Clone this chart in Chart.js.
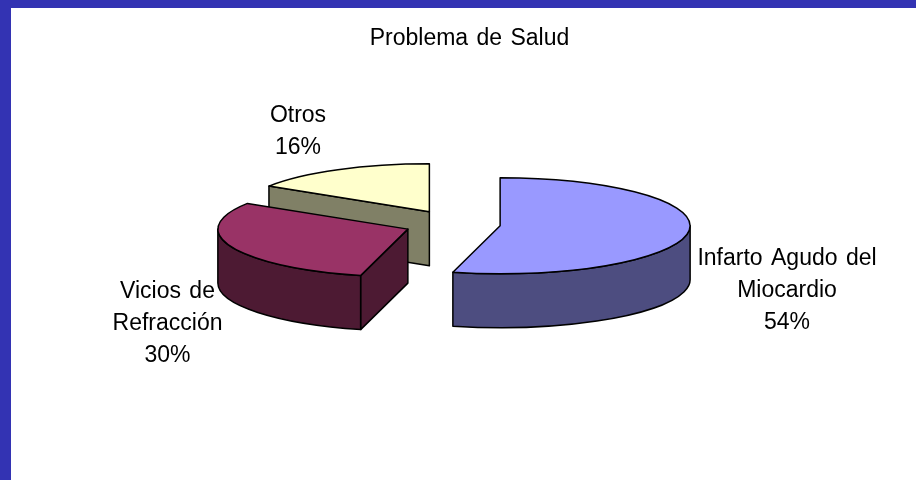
<!DOCTYPE html>
<html>
<head>
<meta charset="utf-8">
<style>
html,body{margin:0;padding:0;width:916px;height:480px;overflow:hidden;background:#3333B3;}
#wrap{position:absolute;left:11px;top:8px;width:905px;height:472px;overflow:hidden;background:#fff;}
canvas{display:block;}
</style>
<script src="https://cdn.jsdelivr.net/npm/chart.js@4/dist/chart.umd.js"></script>
</head>
<body>
<div id="wrap"><canvas id="c" width="917" height="472" style="width:917px;height:472px"></canvas></div>
<script>
const categories = ["Infarto Agudo del\nMiocardio", "Vicios de\nRefracción", "Otros"];
const values = [54, 30, 16];
const topColors = ["#9999FF", "#993366", "#FFFFCC"];
const wallColors = ["#4D4D80", "#4D1A33", "#808066"];
const chartTitle = "Problema de Salud";

const FONT = '"Liberation Sans", Arial, sans-serif';
const pie3d = {
  id: "pie3d",
  beforeDatasetDraw(chart, args, opts) {
    const ctx = chart.ctx;
    const arcs = chart.getDatasetMeta(args.index).data;
    const squash = opts.squash, explodeY = opts.explodeY, depth = opts.depth;
    for (let i = arcs.length - 1; i >= 0; i--) {
      const a = arcs[i];
      const r = a.outerRadius, a0 = a.startAngle, a1 = a.endAngle;
      const mid = (a0 + a1) / 2, off = a.options.offset / 4;
      const cx = a.x + Math.cos(mid) * off;
      const cy = a.y + Math.sin(mid) * off * explodeY;
      const ry = r * squash;
      const px = t => cx + Math.cos(t) * r;
      const py = t => cy + Math.sin(t) * ry;
      ctx.save();
      ctx.lineWidth = opts.lineWidth;
      ctx.lineJoin = "round";
      ctx.strokeStyle = "#000";
      ctx.fillStyle = wallColors[i];
      // radial walls that face the viewer
      const faces = [[a0, Math.sin(a0 - Math.PI / 2)], [a1, Math.sin(a1 + Math.PI / 2)]];
      for (const [t, facing] of faces) {
        if (facing <= 1e-6) continue;
        ctx.beginPath();
        ctx.moveTo(cx, cy);
        ctx.lineTo(px(t), py(t));
        ctx.lineTo(px(t), py(t) + depth);
        ctx.lineTo(cx, cy + depth);
        ctx.closePath();
        ctx.fill();
        ctx.stroke();
      }
      // outer curved wall: only the part facing the viewer
      const from = Math.max(a0, 0), to = Math.min(a1, Math.PI);
      if (to > from) {
        ctx.beginPath();
        ctx.ellipse(cx, cy, r, ry, 0, from, to);
        ctx.lineTo(px(to), py(to) + depth);
        ctx.ellipse(cx, cy + depth, r, ry, 0, to, from, true);
        ctx.closePath();
        ctx.fill();
        ctx.stroke();
      }
      // top face
      ctx.fillStyle = topColors[i];
      ctx.beginPath();
      ctx.moveTo(cx, cy);
      ctx.ellipse(cx, cy, r, ry, 0, a0, a1);
      ctx.closePath();
      ctx.fill();
      ctx.stroke();
      ctx.restore();
    }
    return false;
  },
  afterDraw(chart, args, opts) {
    const ctx = chart.ctx;
    ctx.save();
    ctx.font = opts.fontSize + "px " + FONT;
    ctx.wordSpacing = opts.wordSpacing;
    ctx.fillStyle = "#000";
    ctx.textAlign = "center";
    ctx.textBaseline = "middle";
    ctx.fillText(chartTitle, opts.titleCenter[0], opts.titleCenter[1]);
    categories.forEach((c, i) => {
      const lines = c.split("\n").concat(values[i] + "%");
      const [x, y] = opts.labelCenters[i];
      lines.forEach((l, k) => {
        ctx.fillText(l, x, y + (k - (lines.length - 1) / 2) * opts.lineGap);
      });
    });
    ctx.restore();
  }
};

new Chart(document.getElementById("c"), {
  type: "pie",
  data: {
    labels: categories,
    datasets: [{
      data: values,
      backgroundColor: topColors,
      borderWidth: 0,
      offset: 192,
      radius: 190,
      clip: false
    }]
  },
  options: {
    responsive: false,
    animation: false,
    layout: { padding: { left: 0, right: 34, top: 52, bottom: 92 } },
    plugins: {
      legend: { display: false },
      tooltip: { enabled: false },
      title: { display: false },
      pie3d: {
        squash: 0.2526,
        explodeY: 0.29,
        depth: 54,
        lineWidth: 1.5,
        fontSize: 23,
        wordSpacing: "2px",
        lineGap: 32,
        titleCenter: [458.5, 31],
        labelCenters: [[776, 283], [156.5, 316], [287, 124]]
      }
    }
  },
  plugins: [pie3d]
});
</script>
</body>
</html>
